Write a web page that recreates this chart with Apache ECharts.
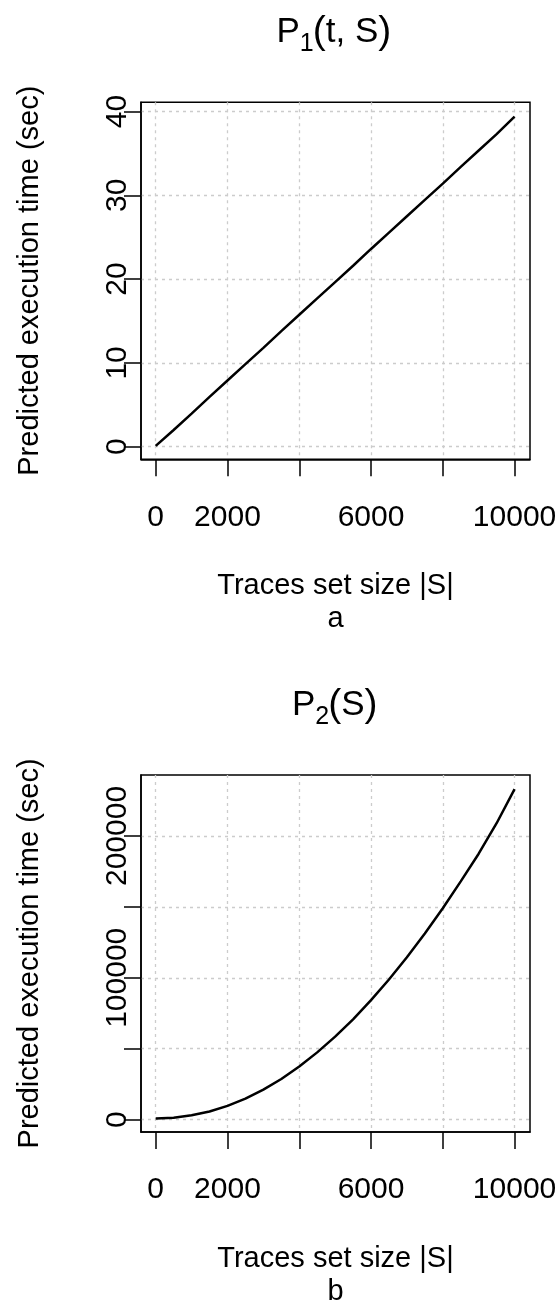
<!DOCTYPE html>
<html><head><meta charset="utf-8">
<script src="https://cdn.jsdelivr.net/npm/echarts@6/dist/echarts.min.js"></script>
<style>html,body{margin:0;padding:0;background:#fff}#c{width:560px;height:1306px}</style>
</head><body><div id="c"></div>
<script>
// ---- data ----
const traceSizes = [0,500,1000,1500,2000,2500,3000,3500,4000,4500,5000,5500,6000,6500,7000,7500,8000,8500,9000,9500,10000];
const p1Times = [0.1,2.0,3.95,5.95,7.9,9.85,11.8,13.8,15.75,17.7,19.65,21.6,23.6,25.55,27.5,29.45,31.4,33.4,35.35,37.3,39.4];
const p2Times = [700,1300,3000,5700,9700,14800,21100,28600,37500,47400,58500,70700,84200,98800,114500,131300,149000,168000,187500,209000,233000];
const xTicks = [0,2000,4000,6000,8000,10000];
const xTickLabels = [0,2000,6000,10000];
const y1Ticks = [0,10,20,30,40];
const y1TickLabels = [0,10,20,30,40];
const y2Ticks = [0,50000,100000,150000,200000];
const y2TickLabels = [0,100000,200000];
const xTitle = 'Traces set size |S|';
const yTitle = 'Predicted execution time (sec)';
const subLabels = ['a','b'];

const font = 'Liberation Sans, Arial, Helvetica, sans-serif';
const chart = echarts.init(document.getElementById('c'), null, {renderer:'canvas'});
const gridLine = {show:true, lineStyle:{color:'#cccccc', width:1.3, type:[3,4]}};
const tickStyle = {color:'#000', width:1.5};
const OFF = 672.7;
const plain = v => String(v);

function xAxisCfg(gi){
  return {gridIndex:gi, type:'value', min:-410, max:10430,
    axisLine:{show:true, onZero:false, lineStyle:{color:'#000', width:1.5}},
    axisTick:{show:true, inside:false, length:17, customValues:xTicks, lineStyle:tickStyle},
    axisLabel:{show:true, customValues:xTickLabels, formatter:plain, margin:43, color:'#000', fontSize:30, fontFamily:font},
    splitLine:gridLine};
}
function yAxisCfg(gi, min, max, ticks, labels){
  return {gridIndex:gi, type:'value', min:min, max:max,
    axisLine:{show:true, onZero:false, lineStyle:{color:'#000', width:1.5}},
    axisTick:{show:true, inside:false, length:17, customValues:ticks, lineStyle:tickStyle},
    axisLabel:{show:true, customValues:labels, formatter:plain, rotate:90, margin:8, color:'#000', fontSize:30, fontFamily:font},
    splitLine:gridLine};
}
function txt(x, y, text, size, align){
  return {type:'text', x:x, y:y, silent:true,
    style:{text:text, fontSize:size, fontFamily:font, fill:'#000', textAlign:align||'left', textVerticalAlign:'middle'}};
}
function titleParts(off, sub, inner){
  const B = 44.5 + off;
  const els = [];
  const w = (inner === 'S') ? 87 : 118;
  let x = 335.5 - w/2;
  els.push(txt(x, B - 0.35*35, 'P', 35)); x += 0.667*35;
  els.push(txt(x, B + 8.5 - 0.35*25, sub, 25)); x += 0.556*25 - 1;
  els.push(txt(x, B - 0.35*39 + 1.5, '(', 39)); x += 0.333*39;
  const innerW = inner === 'S' ? 0.667*35 : (0.278+0.278+0.278+0.667)*35;
  els.push(txt(x, B - 0.35*35, inner, 35)); x += innerW;
  els.push(txt(x, B - 0.35*39 + 1.5, ')', 39));
  return els;
}
const graphics = [];
[0, OFF].forEach((off, i) => {
  graphics.push(...titleParts(off, i === 0 ? '1' : '2', i === 0 ? 't, S' : 'S'));
  graphics.push(txt(335.5, 596 + off - 0.35*29, xTitle, 29, 'center'));
  graphics.push(txt(335.5, 629 + off - 0.35*29, subLabels[i], 29, 'center'));
  graphics.push({type:'text', x:30, y:280.7 + off, rotation:Math.PI/2, silent:true,
    style:{text:yTitle, fontSize:29, fontFamily:font, fill:'#000', textAlign:'center', textVerticalAlign:'middle'}});
});

chart.setOption({
  animation:false,
  backgroundColor:'#fff',
  grid:[
    {left:141, top:102.3, width:389, height:357, show:true, borderColor:'#000', borderWidth:1.5, backgroundColor:'transparent', containLabel:false},
    {left:141, top:102.3+OFF, width:389, height:357, show:true, borderColor:'#000', borderWidth:1.5, backgroundColor:'transparent', containLabel:false}
  ],
  xAxis:[xAxisCfg(0), xAxisCfg(1)],
  yAxis:[
    yAxisCfg(0, -1.5, 41.1, y1Ticks, y1TickLabels),
    yAxisCfg(1, -8750, 243000, y2Ticks, y2TickLabels)
  ],
  series:[
    {type:'line', xAxisIndex:0, yAxisIndex:0, data:traceSizes.map((s,i)=>[s,p1Times[i]]), showSymbol:false, lineStyle:{color:'#000', width:2.5}},
    {type:'line', xAxisIndex:1, yAxisIndex:1, data:traceSizes.map((s,i)=>[s,p2Times[i]]), showSymbol:false, lineStyle:{color:'#000', width:2.5}}
  ],
  graphic:graphics
});
</script></body></html>
